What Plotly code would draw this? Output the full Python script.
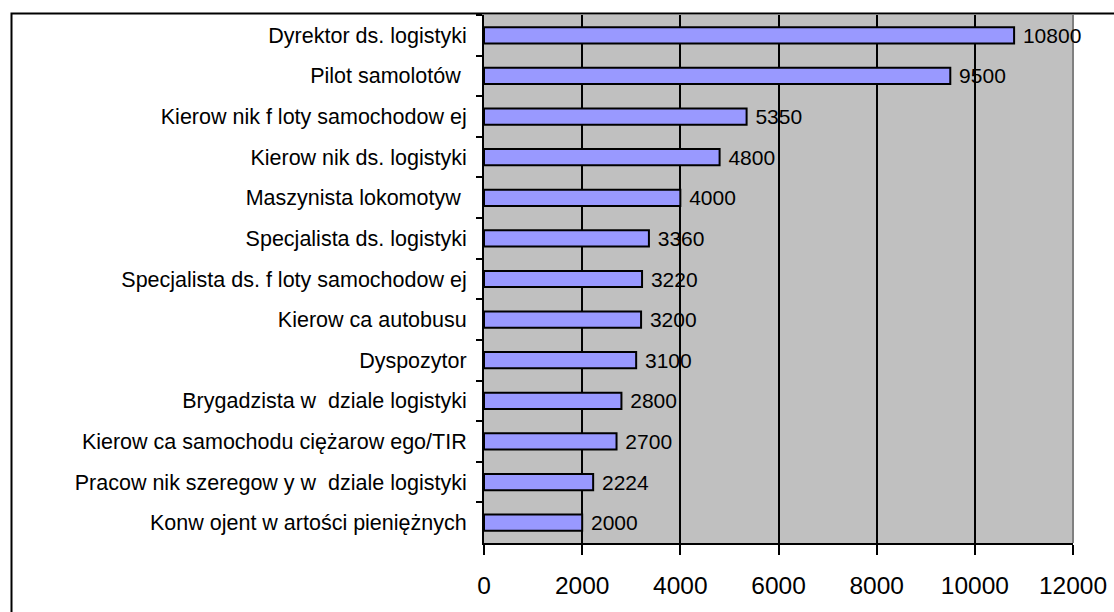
import plotly.graph_objects as go

categories = [
    "Dyrektor ds. logistyki",
    "Pilot samolotów ",
    "Kierow nik f loty samochodow ej",
    "Kierow nik ds. logistyki",
    "Maszynista lokomotyw ",
    "Specjalista ds. logistyki",
    "Specjalista ds. f loty samochodow ej",
    "Kierow ca autobusu",
    "Dyspozytor",
    "Brygadzista w  dziale logistyki",
    "Kierow ca samochodu ciężarow ego/TIR",
    "Pracow nik szeregow y w  dziale logistyki",
    "Konw ojent w artości pieniężnych",
]
values = [10800, 9500, 5350, 4800, 4000, 3360, 3220, 3200, 3100, 2800, 2700, 2224, 2000]
x_ticks = [0, 2000, 4000, 6000, 8000, 10000, 12000]

FONT = "Liberation Sans, Arial, sans-serif"

fig = go.Figure(
    go.Bar(
        x=values,
        y=categories,
        orientation="h",
        width=0.4,
        marker=dict(color="#9999FF", line=dict(color="black", width=2)),
        text=["\u00a0" + str(v) for v in values],
        textposition="outside",
        constraintext="none",
        textfont=dict(family=FONT, size=21, color="black"),
        cliponaxis=False,
        hoverinfo="skip",
    )
)

L, R, T, B = 484, 41, 15, 69
W, H = 1114, 612
pw, ph = W - L - R, H - T - B


def px_x(p):
    return (p - L) / pw


def px_y(p):
    return (H - B - p) / ph


fig.update_layout(
    width=W,
    height=H,
    margin=dict(l=L, r=R, t=T, b=B, pad=0),
    paper_bgcolor="white",
    plot_bgcolor="#C0C0C0",
    showlegend=False,
    font=dict(family=FONT, color="black"),
    xaxis=dict(
        range=[0, 12000],
        tickvals=x_ticks,
        ticktext=[str(t) for t in x_ticks],
        showgrid=True,
        gridcolor="black",
        gridwidth=2,
        showline=True,
        linecolor="black",
        linewidth=2,
        ticks="outside",
        ticklen=10,
        tickwidth=2,
        tickcolor="black",
        tickfont=dict(family=FONT, size=24.5, color="black"),
        ticklabelstandoff=10,
        zeroline=False,
        fixedrange=True,
        automargin=False,
    ),
    yaxis=dict(
        type="category",
        autorange="reversed",
        tickson="boundaries",
        ticks="outside",
        ticklen=6,
        tickwidth=2,
        tickcolor="black",
        showline=True,
        linecolor="black",
        linewidth=2,
        showgrid=False,
        tickfont=dict(family=FONT, size=21.5, color="black"),
        ticklabelstandoff=11,
        fixedrange=True,
        automargin=False,
    ),
    shapes=[
        dict(
            type="line", xref="paper", yref="paper",
            x0=1, x1=1, y0=0, y1=1,
            line=dict(color="#808080", width=2),
            layer="between",
        ),
        dict(
            type="rect", xref="paper", yref="paper",
            x0=px_x(11.5), x1=px_x(1125), y0=px_y(625), y1=px_y(13.5),
            line=dict(color="black", width=2),
            fillcolor="rgba(0,0,0,0)",
            layer="above",
        ),
    ],
)

fig.write_html(
    "out.html",
    config={"displayModeBar": False},
    post_script="document.body.style.margin='0';document.body.style.padding='0';",
)
